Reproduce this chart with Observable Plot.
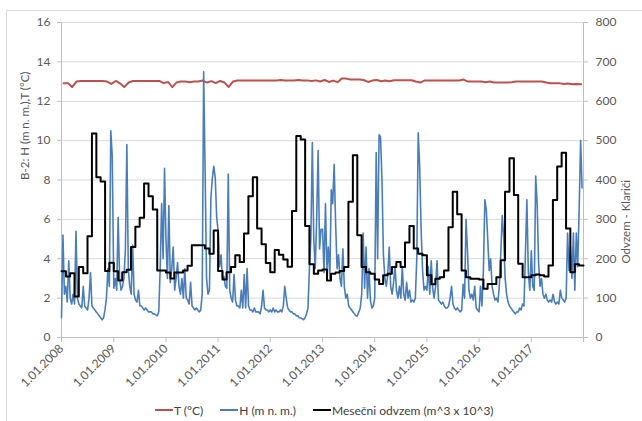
<!DOCTYPE html>
<html>
<head>
<meta charset="utf-8">
<script src="https://cdn.jsdelivr.net/npm/d3@7"></script>
<script src="https://cdn.jsdelivr.net/npm/@observablehq/plot@0.6"></script>
<style>
  body { margin: 0; background: #fff; font-family: Lato, "Open Sans", sans-serif; }
  #wrap { position: relative; width: 642px; height: 421px; overflow: hidden; }
  #frame { position: absolute; left: 6px; top: 10px; width: 700px; height: 500px; border: 1px solid #d9d9d9; box-sizing: border-box; }
  #chart { position: absolute; left: 0; top: 0; }
  #legend { position: absolute; left: 155px; top: 402px; height: 16px; display: flex; align-items: center; gap: 17px; font-size: 12px; color: #404040; white-space: nowrap; }
  #legend .item { display: flex; align-items: center; }
  #legend svg { margin-right: 1px; }
</style>
</head>
<body>
<div id="wrap">
  <div id="frame"></div>
  <div id="chart"></div>
  <div id="legend"></div>
</div>
<script>
// ---- Data ----
const seriesNames = ["T (°C)", "H (m n. m.)", "Mesečni odvzem (m^3 x 10^3)"];
const seriesColors = ["#c0504d", "#4a7ebb", "#000000"];
const leftTitle = "B-2: H (m n. m.),T (°C)";
const rightTitle = "Odvzem - Klariči";
const years = [2008, 2009, 2010, 2011, 2012, 2013, 2014, 2015, 2016, 2017];
const xTickLabels = ["1.01.2008","1.01.2009","1.01.2010","1.01.2011","1.01.2012","1.01.2013","1.01.2014","1.01.2015","1.01.2016","1.01.2017"];
const leftTicks = [0, 2, 4, 6, 8, 10, 12, 14, 16];
const rightTickLabels = ["0","100","200","300","400","500","600","700","800"];

// Temperature T (°C), monthly
const T = [
  12.92,12.92,12.72,13.0,13.03,13.03,13.03,13.03,13.03,13.03,13.0,12.88,
  13.03,12.9,12.72,12.95,13.03,13.03,13.03,13.03,13.03,13.03,13.03,12.92,
  12.98,12.72,12.95,13.0,13.0,12.97,13.0,13.0,13.05,12.95,13.02,12.92,
  13.03,12.95,12.72,13.0,13.05,13.06,13.06,13.06,13.06,13.06,13.06,13.06,
  13.06,13.06,13.08,13.06,13.06,13.06,13.08,13.06,13.06,13.03,13.06,13.0,
  13.08,12.98,13.05,12.97,13.15,13.15,13.1,13.1,13.1,13.08,12.98,13.05,
  13.08,13.02,13.05,13.02,13.07,13.07,13.07,13.07,13.07,13.0,12.95,13.05,
  13.05,13.05,13.05,13.05,13.05,13.05,13.05,13.05,13.1,13.0,13.0,13.0,
  13.0,12.97,13.0,12.95,12.95,12.95,12.95,12.97,13.0,13.0,13.0,13.0,
  13.0,13.0,13.0,12.95,12.92,12.92,12.92,12.88,12.9,12.86,12.88,12.86
];

// Water level H (m n. m.), ten-day values per year
const H2008 = [1.0,5.2,2.2,2.6,1.8,3.9,2.0,1.7,2.2,1.7,5.4,2.0,1.7,1.6,1.5,2.6,1.6,1.5,1.4,2.0,3.3,1.6,1.5,1.4,1.3,1.2,1.1,1.0,0.9,1.0,1.4,2.0,3.5,2.6,10.5,9.2];
const H2009 = [2.5,3.0,2.4,6.1,3.0,2.4,2.6,3.0,4.5,9.8,3.5,2.6,2.2,4.7,2.2,1.9,1.8,2.4,1.6,1.6,1.5,1.4,1.5,1.4,1.3,1.3,1.3,1.2,1.2,1.15,1.1,1.3,3.5,6.8,4.0,8.6];
const H2010 = [5.0,3.0,6.7,2.8,3.5,4.6,2.4,3.0,3.8,2.6,2.2,3.0,2.0,3.5,2.0,1.9,1.7,2.8,1.6,1.5,1.4,1.5,1.4,1.3,1.4,2.2,13.5,8.5,3.0,2.2,2.4,7.1,8.1,8.7,8.1,6.1];
const H2011 = [5.4,3.6,4.2,3.0,3.1,2.6,2.5,8.3,2.4,2.0,1.8,3.2,1.9,1.6,1.6,1.5,2.4,1.5,3.2,1.5,3.5,1.6,1.4,1.4,1.3,1.5,1.3,1.3,1.3,1.2,1.6,2.4,1.5,1.4,1.4,1.3];
const H2012 = [1.4,1.3,1.5,1.3,1.4,1.3,1.3,1.4,1.3,1.6,2.6,2.0,1.5,1.4,1.3,1.3,1.2,1.2,1.1,1.1,1.0,1.0,0.95,0.9,1.0,1.2,1.5,3.5,5.0,9.9,5.0,3.5,6.0,9.5,4.5,5.5];
const H2013 = [5.5,3.3,6.8,3.5,4.6,3.0,7.5,6.8,8.8,5.8,3.5,4.2,3.0,2.6,4.5,2.6,2.0,2.2,1.6,1.5,1.4,1.3,1.2,1.1,1.1,1.3,1.5,2.2,5.3,2.5,4.6,2.0,3.5,1.9,1.5,1.6];
const H2014 = [2.0,9.4,4.0,10.3,10.2,8.0,4.2,3.0,2.6,3.2,4.6,2.6,2.2,2.8,3.6,2.4,2.0,2.6,2.0,3.6,2.2,1.9,2.8,2.0,2.4,1.8,1.9,1.8,2.0,4.0,10.4,8.7,5.5,3.4,2.4,2.6];
const H2015 = [2.4,3.6,2.2,3.9,2.5,2.0,2.6,3.9,1.9,1.8,1.7,1.8,1.6,1.5,1.5,1.6,2.0,2.6,1.7,1.5,1.4,1.5,1.4,1.3,1.4,2.7,2.0,6.0,4.4,2.4,2.0,2.2,1.9,2.6,1.5,1.4];
const H2016 = [1.3,2.6,1.6,3.4,7.0,6.5,5.0,3.4,4.0,2.6,2.2,1.9,2.0,1.8,2.6,4.3,6.2,5.1,3.0,2.2,1.8,1.6,1.5,1.4,1.3,1.2,1.3,1.3,1.5,1.4,1.7,1.6,4.3,7.0,3.3,2.4];
const H2017 = [4.4,2.6,2.4,8.2,6.8,3.8,2.6,3.0,2.2,2.0,2.2,1.9,1.8,1.9,1.8,2.2,1.8,1.7,1.8,1.7,2.4,2.0,1.9,1.8,2.0,5.3,3.4,4.6,3.0,5.3,2.4,5.3,3.6,6.6,10.0,7.6];

// Monthly withdrawal (m^3 x 10^3), right axis
const Q = [
  168,155,163,104,179,163,257,518,407,396,169,190,
  168,145,166,172,230,281,304,391,359,325,170,170,
  165,150,165,165,170,182,234,234,234,226,213,272,
  169,147,166,179,209,192,264,359,407,277,237,189,
  166,222,210,198,180,321,512,503,283,186,162,170,
  173,145,162,165,169,179,345,463,260,179,166,162,
  147,136,158,162,179,192,179,241,283,226,213,209,
  158,135,149,153,170,280,370,313,170,153,149,149,
  147,124,136,136,153,196,370,455,362,187,153,153,
  158,160,158,155,183,349,434,469,277,166,186,183
];

// ---- Build tables ----
const DAY = 86400000;
const utc = (y, m, d) => new Date(Date.UTC(y, m, d));
const hYears = [H2008, H2009, H2010, H2011, H2012, H2013, H2014, H2015, H2016, H2017];
const hData = [];
hYears.forEach((arr, yi) => {
  const start = utc(years[yi], 0, 1).getTime();
  arr.forEach((v, k) => hData.push({date: new Date(start + k * (365.25 / 36) * DAY), v}));
});
const tData = T.map((v, i) => ({date: utc(2008, i, 15), v}));
const qData = Q.map((v, i) => ({date: utc(2008, i, 1), v}));
qData.push({date: utc(2018, 0, 1), v: Q[Q.length - 1]});

const x0 = utc(2008, 0, 1), x1 = utc(2018, 0, 1);
const yearTicks = [...years, 2018].map(y => utc(y, 0, 1));
const xLabelMap = new Map(yearTicks.map((d, i) => [+d, xTickLabels[i] ?? ""]));
const rightMap = new Map(leftTicks.map((t, i) => [t, rightTickLabels[i]]));
const ratio = 800 / 16;

const chart = Plot.plot({
  width: 642,
  height: 392,
  marginTop: 22,
  marginBottom: 55,
  marginLeft: 61,
  marginRight: 59,
  style: {fontFamily: "Lato, 'Open Sans', sans-serif", fontSize: "12px", color: "#595959", background: "transparent", overflow: "visible"},
  x: {type: "utc", domain: [x0, x1], label: null},
  y: {domain: [0, 16], label: null},
  marks: [
    Plot.gridY(leftTicks, {stroke: "#d9d9d9", strokeOpacity: 1}),
    Plot.ruleX([x0, x1], {stroke: "#bfbfbf"}),
    Plot.ruleY([0], {stroke: "#bfbfbf"}),
    Plot.axisY(leftTicks, {anchor: "left", tickSize: 4, tickPadding: 7, stroke: "#bfbfbf", fill: "#595959", fontSize: 12, label: null}),
    Plot.axisY(leftTicks, {anchor: "right", tickSize: 4, tickPadding: 8, stroke: "#bfbfbf", fill: "#595959", fontSize: 12, tickFormat: d => rightMap.get(d), label: null}),
    Plot.axisX(yearTicks, {anchor: "bottom", tickSize: 5, tickPadding: 4, tickRotate: -45, stroke: "#bfbfbf", fill: "#595959", fontSize: 12, tickFormat: d => xLabelMap.get(+d), label: null}),
    Plot.line(tData, {x: "date", y: "v", stroke: seriesColors[0], strokeWidth: 2}),
    Plot.line(hData, {x: "date", y: "v", stroke: seriesColors[1], strokeWidth: 1.6}),
    Plot.line(qData, {x: "date", y: d => d.v / ratio, curve: "step-after", stroke: seriesColors[2], strokeWidth: 2}),
    Plot.text([leftTitle], {frameAnchor: "left", dx: -36, rotate: -90, fontSize: 11.5, fill: "#595959"}),
    Plot.text([rightTitle], {frameAnchor: "right", dx: 43, rotate: -90, fontSize: 11.5, fill: "#595959"})
  ]
});
document.getElementById("chart").appendChild(chart);

// ---- Legend ----
const legend = document.getElementById("legend");
seriesNames.forEach((name, i) => {
  const item = document.createElement("span");
  item.className = "item";
  item.innerHTML = `<svg width="18" height="10"><line x1="0" x2="18" y1="5" y2="5" stroke="${seriesColors[i]}" stroke-width="2"/></svg>`;
  item.appendChild(document.createTextNode(name));
  legend.appendChild(item);
});
</script>
</body>
</html>
